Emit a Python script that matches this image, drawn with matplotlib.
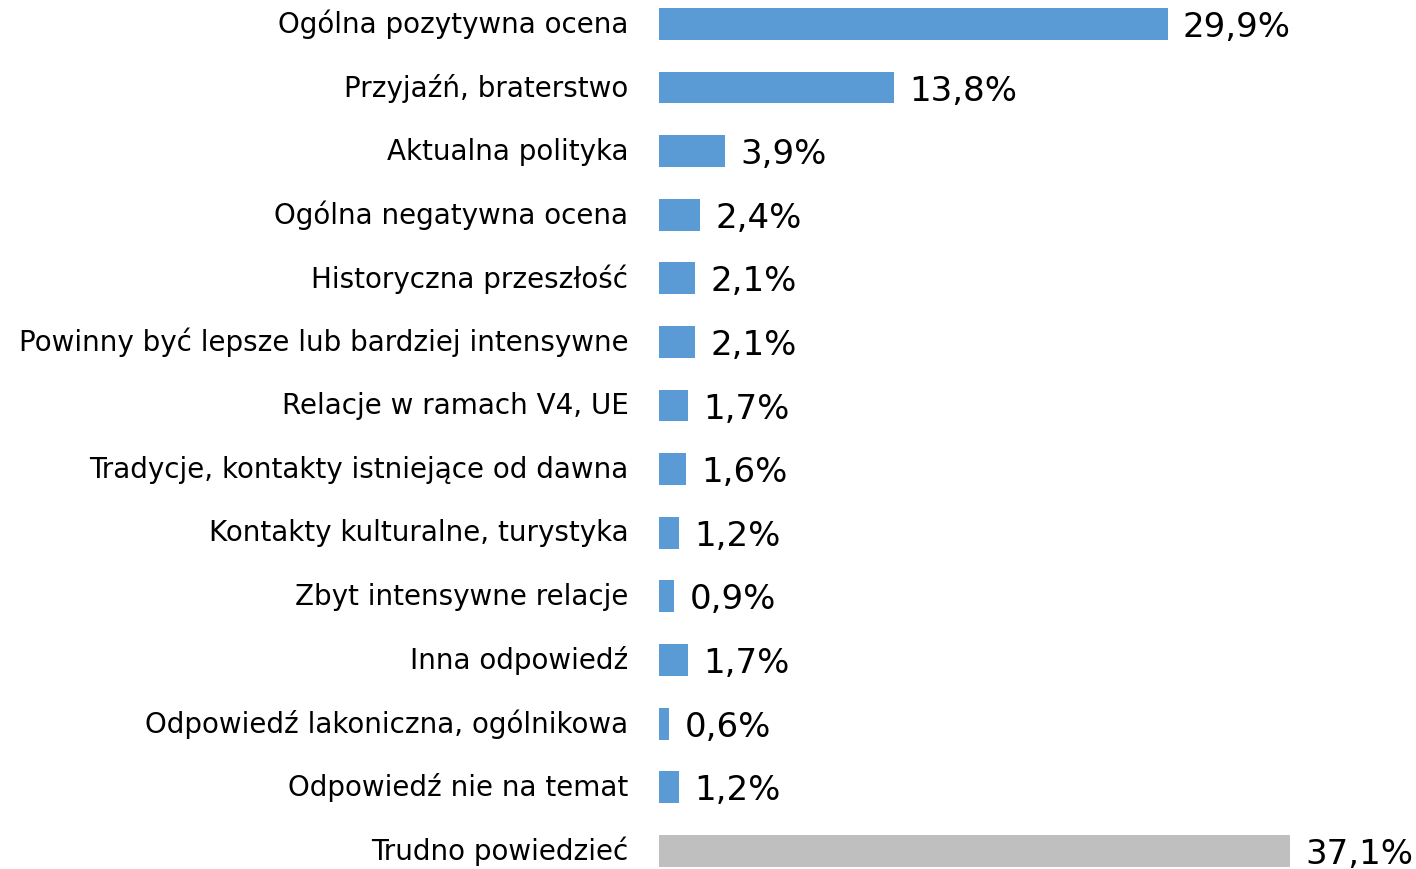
import matplotlib.pyplot as plt
from matplotlib.transforms import ScaledTranslation

categories = [
    'Ogólna pozytywna ocena',
    'Przyjaźń, braterstwo',
    'Aktualna polityka',
    'Ogólna negatywna ocena',
    'Historyczna przeszłość',
    'Powinny być lepsze lub bardziej intensywne',
    'Relacje w ramach V4, UE',
    'Tradycje, kontakty istniejące od dawna',
    'Kontakty kulturalne, turystyka',
    'Zbyt intensywne relacje',
    'Inna odpowiedź',
    'Odpowiedź lakoniczna, ogólnikowa',
    'Odpowiedź nie na temat',
    'Trudno powiedzieć',
]
values = [29.9, 13.8, 3.9, 2.4, 2.1, 2.1, 1.7, 1.6, 1.2, 0.9, 1.7, 0.6, 1.2, 37.1]

blue = '#5b9bd5'
grey = '#bfbfbf'
colors = [blue] * (len(values) - 1) + [grey]

fig = plt.figure(figsize=(14.16, 8.69), dpi=100)
ax = fig.add_axes([659 / 1416, 0, 1 - 659 / 1416, 1])

pos = list(range(len(values)))
ax.barh(pos, values, height=0.5, color=colors)
ax.set_xlim(0, 44.5)
ax.set_ylim(13.286, -0.377)

ax.set_yticks(pos)
ax.set_yticklabels(categories, fontsize=20, family='DejaVu Sans')
ax.tick_params(axis='y', length=0, pad=22)
ax.set_xticks([])
for s in ax.spines.values():
    s.set_visible(False)

# lekko w gore, jak w oryginale
up = ScaledTranslation(0, 2.5 / 100, fig.dpi_scale_trans)
for lab in ax.get_yticklabels():
    lab.set_transform(lab.get_transform() + up)

# etykiety wartosci
for p, v in zip(pos, values):
    ax.annotate(f'{v:.1f}%'.replace('.', ','), xy=(v, p), xytext=(11, -2.5),
                textcoords='offset points', va='center', ha='left',
                fontsize=24.5, family='DejaVu Sans')

fig.savefig('out.png')
